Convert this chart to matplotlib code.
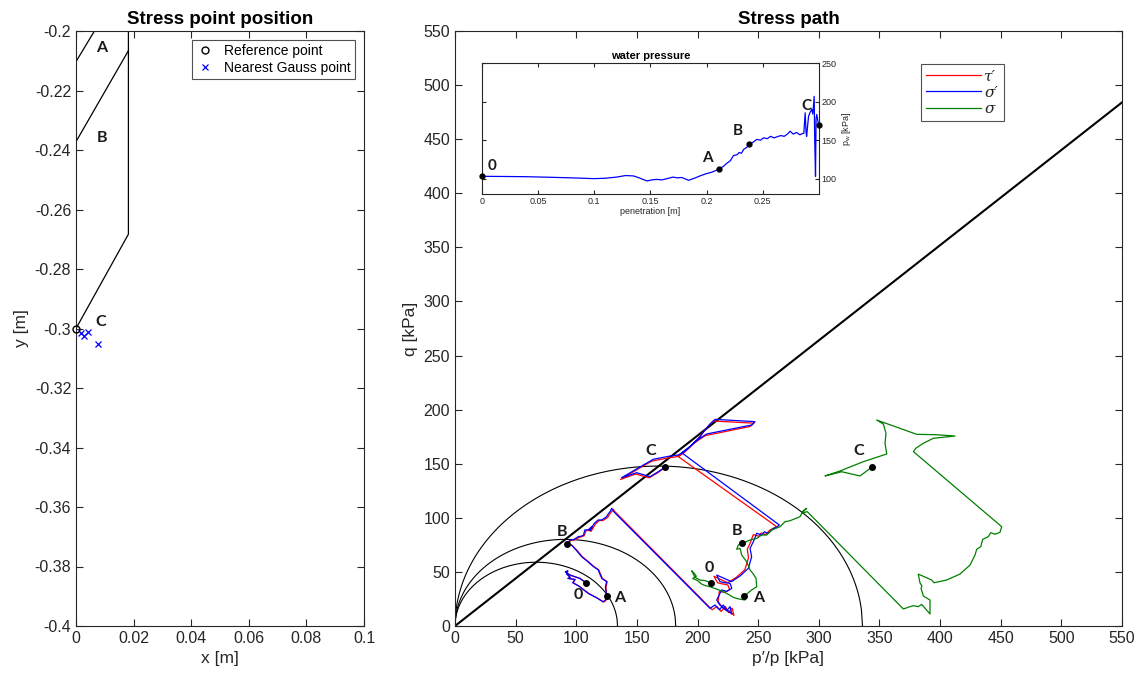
import numpy as np
import matplotlib
matplotlib.use("Agg")
import matplotlib.pyplot as plt

plt.rcParams['font.family'] = ['Liberation Sans', 'DejaVu Sans']
plt.rcParams['mathtext.fontset'] = 'stix'

# ---------------- data: stress point position ----------------
cone_C_x = [0.0182, 0.0182, 0.0]
cone_C_y = [-0.2, -0.2683, -0.3]
cone_B_x = [0.0, 0.0182]
cone_B_y = [-0.2372, -0.2066]
cone_A_x = [0.0, 0.0064]
cone_A_y = [-0.2103, -0.2]
ref_x = [0.0]
ref_y = [-0.3]
gauss_x = [0.0016, 0.0029, 0.0043, 0.0077]
gauss_y = [-0.3016, -0.3025, -0.3013, -0.3052]
cone_labels = ['A', 'B', 'C']
cone_label_x = [0.0089, 0.0089, 0.0087]
cone_label_y = [-0.2058, -0.2359, -0.2979]

# ---------------- data: water pressure ----------------
pen = [0, 0.02, 0.04, 0.06, 0.08, 0.10, 0.11, 0.12, 0.128, 0.135, 0.14, 0.147,
       0.152, 0.156, 0.16, 0.165, 0.17, 0.174, 0.178, 0.184, 0.19, 0.195, 0.2,
       0.205, 0.2114, 0.215, 0.218, 0.221, 0.224, 0.227, 0.229, 0.231, 0.233,
       0.236, 0.238, 0.241, 0.2447, 0.248, 0.2506, 0.254, 0.257, 0.26, 0.2625,
       0.266, 0.269, 0.272, 0.2743, 0.277, 0.28, 0.283, 0.2855, 0.2865, 0.2877,
       0.2885, 0.289, 0.2907, 0.292, 0.2936, 0.2945, 0.2957, 0.2962, 0.2969,
       0.2974, 0.298, 0.2996]
pw = [103, 102.8, 102.5, 101.8, 101, 100, 100.5, 102, 104, 103.5, 101, 97,
      98.5, 99, 98.3, 100, 102, 101, 101.5, 97.8, 101, 104, 106.5,
      108.5, 112.6, 116, 120, 123, 130, 131, 134, 133, 138,
      141, 145, 147, 151, 150, 153, 152, 155, 153, 154.3,
      156, 155, 158, 161.7, 158, 160, 157, 158.7, 159, 185.6,
      160, 155, 181, 186, 190, 184, 207, 150, 103,
      178, 183.5, 170]
pw_labels = ['0', 'A', 'B', 'C']
pw_pt_x = [0.0, 0.2114, 0.238, 0.2996]
pw_pt_y = [103, 112.6, 145, 170]
pw_lab_x = [0.0089, 0.2007, 0.2277, 0.2885]
pw_lab_y = [117, 127, 161.7, 194]

# ---------------- data: stress path ----------------
M_slope = 0.88
p_line = [0, 550]
yield_pc = [134, 182, 336]

blue_p = [108, 103, 95, 91, 93, 92, 95, 93, 99, 97, 102, 110, 117, 122, 124, 125,
          124, 125, 121, 118, 114, 110, 104.5, 100, 96, 92, 95, 98, 101.7, 104,
          106, 107, 110, 112.7, 111, 115, 118, 121, 125, 126, 128, 129.2, 130.6,
          210.3, 214.4, 218, 221.3, 224, 226.8, 228.2, 225, 221.3, 218, 215.8,
          219.9, 224, 228.2, 226.8, 222, 218.5, 215.8, 222, 228, 235, 241.9,
          244.6, 243.3, 246, 248.8, 252.9, 255, 258.4, 262.5, 265, 267.4,
          186.9, 193.8, 202, 206, 210.3, 214.4, 247.4, 244.6, 207.5, 202, 196.5,
          190, 184.2, 177.3, 163.5, 155.3, 137.4, 149.8, 160.8, 167.6, 173.2]
blue_q = [40, 44, 47, 50, 51, 48, 45, 44, 43, 40, 37, 30, 26, 22.5, 24, 28,
          36, 41, 44, 52, 55, 59, 64, 70, 75, 75.5, 79.5, 80, 82.6, 83,
          84, 88.7, 89, 91.8, 88, 95, 98, 98, 101, 103, 106, 108.8, 106,
          16.3, 19.4, 15, 19.4, 14, 17.9, 11.1, 14, 16.3, 20, 24,
          33.3, 32, 34.8, 39.5, 40, 41, 47.1, 44, 41, 46.2, 53.3,
          64, 71.8, 77.9, 85.7, 84.1, 87, 85.7, 90.3, 91, 93.4,
          160.2, 165.8, 175, 181, 186.7, 191, 188.9, 185.8, 177.5, 173.5, 168.9,
          162, 158.1, 157.1, 154.1, 148.8, 137.1, 141.7, 138, 142.6, 146.7]

red_p = [108, 103, 95, 91, 93, 92.5, 95, 93.5, 99, 97.5, 102, 110.5, 117, 122.5, 124.5, 125,
         124.5, 125.5, 121.5, 118.5, 114.5, 110.5, 105, 100.5, 96.5, 92.5, 95.5, 98.5, 102.5, 104.5,
         106.5, 108, 110.5, 113.5, 112, 116, 119, 122, 126, 127, 129, 130.5, 132,
         212, 216, 219.5, 223, 225.5, 228.5, 230, 227, 223, 219.5, 217,
         218, 222, 226.5, 225, 220, 216.5, 213.5, 219, 225, 232, 239,
         242, 241, 243.5, 246, 250.5, 252.5, 256, 260, 262.5, 265,
         184.2, 192, 200.5, 204.5, 209, 213, 246.5, 243.5, 206.5, 201, 195.5,
         189, 183, 176.5, 162.5, 154.5, 136.5, 149, 160, 167, 173.2]
red_q = [40, 44, 47, 50, 51, 48, 45, 44, 43, 40, 37, 30, 26, 22, 23.5, 28,
         36, 41, 44, 52, 55, 59, 64, 70, 74.5, 75.5, 79, 79.5, 82, 82.5,
         83.5, 88, 88.5, 91, 87.5, 94.5, 97.5, 97.5, 100.5, 102.5, 105.5, 108, 105.5,
         15, 18, 13.5, 18, 12.5, 16.5, 9.8, 12.8, 15, 18.8, 22.5,
         32, 31, 33.5, 38, 39, 40, 46, 43, 40, 45, 52,
         63, 71, 77, 84.5, 83, 86, 84.5, 89, 90, 92,
         156.5, 163.5, 173, 179, 185, 189.5, 187.5, 184.5, 176, 172, 167.5,
         160.5, 156.5, 155.5, 152.5, 147.5, 135.5, 140.5, 137, 141.5, 146.7]

green_p = [210.8, 206, 202, 197.9, 195.2, 197, 199, 196, 200, 203, 206, 210.3, 216,
           221.3, 225, 229.5, 234, 239.1, 238.6, 241, 244.6, 248.8, 248.2, 246,
           243.3, 240.5, 236.4, 235, 232.3, 233.6, 236.9, 243.3, 248.8, 252.9,
           257, 261.2, 268, 272.1, 276.2, 284.5, 287.2, 290, 285.9, 290.5,
           369.7, 375.2, 378, 382, 384.8, 391.7, 391.7, 386.2, 384.3, 385, 383.4,
           382, 393, 395, 405.4, 416.4, 424.7, 428.8, 430.2, 433.5, 435.1,
           439.8, 441.7, 445.3, 449.4, 450.8,
           378, 380, 386.2, 394.4, 412.3, 397.2, 380.7, 347.7, 353.2, 355.4,
           354.6, 356, 336.7, 317.5, 305.1, 318.9, 334, 343.6]
green_q = [40, 42, 42.5, 45, 51.1, 49, 46, 44, 42, 39, 37.5, 36.3, 34,
           31.7, 29.5, 26.5, 25, 24, 27.7, 30, 33.3, 36.3, 44.1, 48,
           51.8, 59.4, 65.6, 71.8, 70.9, 74.9, 76.4, 79.5, 81, 84.1,
           84.1, 88.7, 91.8, 96.4, 97.3, 101, 106.6, 108.8, 104.2, 105.7,
           15.7, 17.9, 18.8, 17.9, 20, 11.1, 24, 27.7, 34.8, 37, 40,
           48, 42.5, 40, 42.5, 48, 56.4, 65.6, 70.9, 73.3, 80.1,
           82.6, 86.3, 84.8, 86.6, 91.8,
           161.2, 164.3, 168.9, 173.5, 175.6, 176.8, 177.2, 190.4, 186.7, 178.1,
           168.9, 159, 151.9, 143.3, 138.7, 142.6, 138.7, 146.7]

eff_pt_p = [108, 125, 92.1, 173.2]
eff_pt_q = [40, 27.7, 75.5, 146.7]
eff_lab_p = [101.7, 136, 88, 161.3]
eff_lab_q = [28.7, 25.6, 87.2, 162]
tot_pt_p = [210.8, 238.6, 236.9, 343.6]
tot_pt_q = [40, 27.7, 76.4, 146.7]
tot_lab_p = [209.4, 250, 232.8, 332.6]
tot_lab_q = [54, 25.6, 88, 162]
path_labels = ['0', 'A', 'B', 'C']
legend_labels = ['\u03c4\u2032', '\u03c3\u2032', '\u03c3']

# ---------------- figure ----------------
W, H = 1143, 684
fig = plt.figure(figsize=(W / 100, H / 100), dpi=100)
axc = '#262626'
lab_font = dict(family=['Lato', 'DejaVu Sans'], fontweight='bold', color='#1a1a1a')


def style(ax, fs=11.5):
    ax.tick_params(direction='in', top=True, right=True, length=5, width=0.8,
                   labelsize=fs, colors=axc)
    for s in ax.spines.values():
        s.set_color(axc)
        s.set_linewidth(0.8)


# Left panel
ax1 = fig.add_axes([76 / W, 1 - 626 / H, 288 / W, 595 / H])
style(ax1)
ax1.plot(cone_C_x, cone_C_y, color='k', lw=0.9)
ax1.plot(cone_B_x, cone_B_y, color='k', lw=0.9)
ax1.plot(cone_A_x, cone_A_y, color='k', lw=0.9)
ax1.plot(ref_x, ref_y, 'o', mfc='none', mec='k', ms=5, mew=1, label='Reference point',
         clip_on=False, zorder=5)
ax1.plot(gauss_x, gauss_y, 'x', color='b', ms=4, mew=0.9, label='Nearest Gauss point')
for t, x, y in zip(cone_labels, cone_label_x, cone_label_y):
    ax1.text(x, y, t, ha='center', va='center', fontsize=11.5, **lab_font)
ax1.set_xlim(0, 0.1)
ax1.set_ylim(-0.4, -0.2)
ax1.set_xticks(np.arange(0, 0.1001, 0.02))
ax1.set_xticklabels(['0', '0.02', '0.04', '0.06', '0.08', '0.1'])
ax1.set_yticks(np.arange(-0.4, -0.1999, 0.02))
ax1.set_yticklabels(['-0.4', '-0.38', '-0.36', '-0.34', '-0.32', '-0.3', '-0.28',
                     '-0.26', '-0.24', '-0.22', '-0.2'])
ax1.set_xlabel('x [m]', fontsize=12.5, color=axc)
ax1.set_ylabel('y [m]', fontsize=12.5, color=axc)
ax1.set_title('Stress point position', fontsize=13.5, fontweight='bold', pad=5)
leg1 = ax1.legend(loc='upper right', fontsize=10, frameon=True, fancybox=False,
                  handlelength=1.2, borderpad=0.3, labelspacing=0.2,
                  bbox_to_anchor=(0.969, 0.985), borderaxespad=0, handletextpad=0.8)
leg1.get_frame().set_edgecolor(axc)
leg1.get_frame().set_linewidth(0.8)

# Right panel
ax2 = fig.add_axes([455 / W, 1 - 626 / H, 667 / W, 595 / H])
style(ax2)
q_line = [M_slope * p for p in p_line]
ax2.plot(p_line, q_line, color='k', lw=1.5)
for pc in yield_pc:
    pp = np.linspace(0, pc, 400)
    qq = M_slope * np.sqrt(np.clip(pp * (pc - pp), 0, None))
    ax2.plot(pp, qq, color='k', lw=0.8)
ax2.plot(red_p, red_q, color='r', lw=0.9, label=legend_labels[0])
ax2.plot(blue_p, blue_q, color='b', lw=0.9, label=legend_labels[1])
ax2.plot(green_p, green_q, color='g', lw=0.9, label=legend_labels[2])
ax2.plot(eff_pt_p, eff_pt_q, 'o', color='k', ms=4, zorder=6)
ax2.plot(tot_pt_p, tot_pt_q, 'o', color='k', ms=4, zorder=6)
for t, x, y in zip(path_labels, eff_lab_p, eff_lab_q):
    ax2.text(x, y, t, ha='center', va='center', fontsize=11.5, **lab_font)
for t, x, y in zip(path_labels, tot_lab_p, tot_lab_q):
    ax2.text(x, y, t, ha='center', va='center', fontsize=11.5, **lab_font)
ax2.set_xlim(0, 550)
ax2.set_ylim(0, 550)
ax2.set_xticks(np.arange(0, 551, 50))
ax2.set_yticks(np.arange(0, 551, 50))
ax2.set_xlabel('p\u2032/p [kPa]', fontsize=12.5, color=axc)
ax2.set_ylabel('q [kPa]', fontsize=12.5, color=axc)
ax2.set_title('Stress path', fontsize=13.5, fontweight='bold', pad=5)
leg2 = ax2.legend(loc='upper left', bbox_to_anchor=((921 - 455) / 667, (626 - 64) / 595),
                  prop=dict(family=['DejaVu Serif'], style='italic', size=11),
                  frameon=True, fancybox=False, handlelength=3.6,
                  borderpad=0.35, labelspacing=0.15, borderaxespad=0,
                  handletextpad=0.2)
leg2.get_frame().set_edgecolor(axc)
leg2.get_frame().set_linewidth(0.8)
for t in leg2.get_texts():
    t.set_color(axc)

# Inset
ax3 = fig.add_axes([481.7 / W, 1 - 194 / H, 337.3 / W, 130.7 / H])
style(ax3, fs=6.5)
ax3.tick_params(length=3, labelleft=False, labelright=True, pad=2)
ax3.plot(pen, pw, color='b', lw=0.9)
ax3.plot(pw_pt_x, pw_pt_y, 'o', color='k', ms=3.5, clip_on=False, zorder=6)
for t, x, y in zip(pw_labels, pw_lab_x, pw_lab_y):
    ax3.text(x, y, t, ha='center', va='center', fontsize=11, **lab_font)
ax3.set_xlim(0, 0.3)
ax3.set_ylim(80, 250)
ax3.set_xticks([0, 0.05, 0.1, 0.15, 0.2, 0.25])
ax3.set_xticklabels(['0', '0.05', '0.1', '0.15', '0.2', '0.25'])
ax3.set_yticks([100, 150, 200, 250])
ax3.yaxis.set_label_position('right')
ax3.set_ylabel(r'$\mathregular{p_w}$ [kPa]', fontsize=6.5, color=axc, labelpad=2)
ax3.set_xlabel('penetration [m]', fontsize=6.5, color=axc, labelpad=1)
ax3.set_title('water pressure', fontsize=8, fontweight='bold', pad=3)

fig.savefig('out.png', dpi=100, facecolor='white')
